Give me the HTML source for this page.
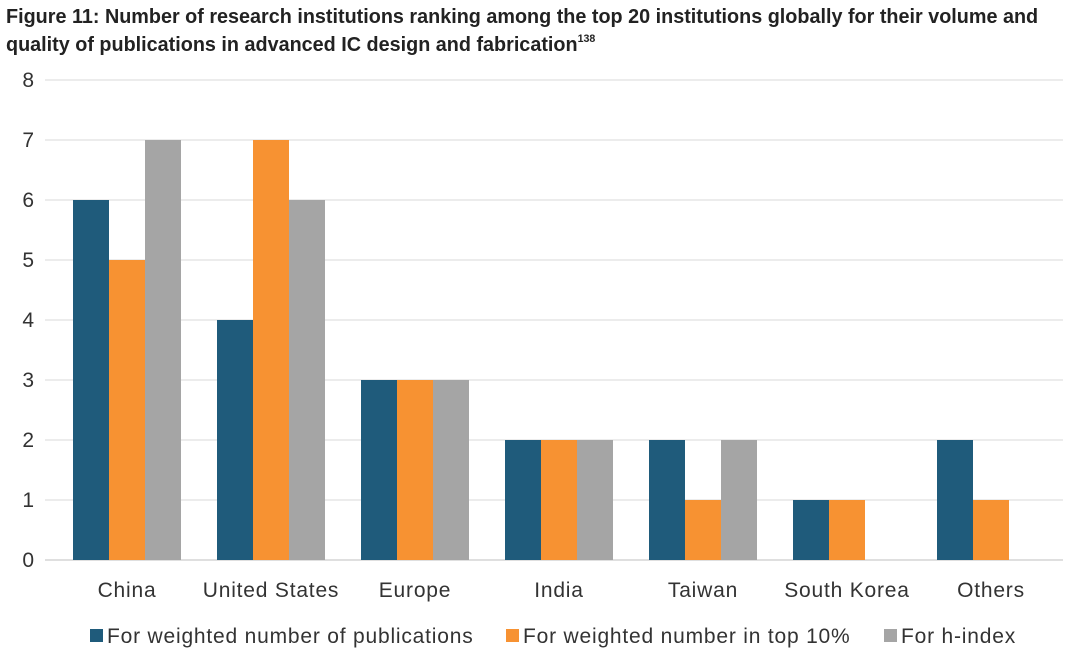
<!DOCTYPE html>
<html><head><meta charset="utf-8"><style>
body{margin:0;background:#fff;width:1080px;height:656px;overflow:hidden;font-family:"Liberation Sans",sans-serif}
.title{position:absolute;left:6px;top:3px;font-family:"Liberation Sans Narrow","Liberation Sans",sans-serif;font-weight:bold;font-size:20.5px;line-height:28px;color:#222;white-space:nowrap;transform:scaleX(0.965);transform-origin:0 0}
sup{font-size:11px;vertical-align:9px;line-height:0}
</style></head><body>
<div class="title">Figure 11: Number of research institutions ranking among the top 20 institutions globally for their volume and<br>quality of publications in advanced IC design and fabrication<sup>138</sup></div>
<svg id="chart" width="1080" height="656" style="position:absolute;left:0;top:0"></svg>
<script>
const categories=["China","United States","Europe","India","Taiwan","South Korea","Others"];
const seriesNames=["For weighted number of publications","For weighted number in top 10%","For h-index"];
const pubs=[6,4,3,2,2,1,2];
const top10=[5,7,3,2,1,1,1];
const hindex=[7,6,3,2,2,0,0];
const yTicks=[0,1,2,3,4,5,6,7,8];
const colors=["#1f5b7b","#f79232","#a5a5a5"];
const series=[pubs,top10,hindex];
const svg=document.getElementById('chart');
const NS="http://www.w3.org/2000/svg";
const L=55,R=1063,Y0=560,Y8=80;
const y=v=>Y0-(v/8)*(Y0-Y8);
const band=(R-L)/categories.length;
const xc=i=>L+band*(i+0.5);
const bw=36;
function mk(t,a){const e=document.createElementNS(NS,t);for(const k in a)e.setAttribute(k,a[k]);svg.appendChild(e);return e;}
yTicks.forEach(t=>{
  const g=mk('line',{x1:L-10,x2:R,y1:y(t),y2:y(t),stroke:t===0?'#bfbfbf':'#d9d9d9','stroke-width':1});
  
  
  const tx=mk('text',{x:34,y:y(t)+7,'text-anchor':'end','font-size':21,fill:'#333'});
  tx.textContent=t;
  
  
});
categories.forEach((c,i)=>{
  series.forEach((s,j)=>{
    const v=s[i];
    const r=mk('rect',{x:xc(i)-1.5*bw+j*bw,y:y(v),width:bw,height:Y0-y(v),fill:colors[j]});
    
    
  });
  const t=mk('text',{x:xc(i),y:597,'text-anchor':'middle','font-size':21,'letter-spacing':0.8,fill:'#333'});
  t.textContent=c;
  
  
});
const lx=[90,506,884];
seriesNames.forEach((n,j)=>{
  const r=mk('rect',{x:lx[j],y:629,width:13,height:13,fill:colors[j]});
  
  
  const t=mk('text',{x:lx[j]+17,y:643,'font-size':21,'letter-spacing':0.8,fill:'#333'});
  t.textContent=n;
  
  
});
</script>
</body></html>
